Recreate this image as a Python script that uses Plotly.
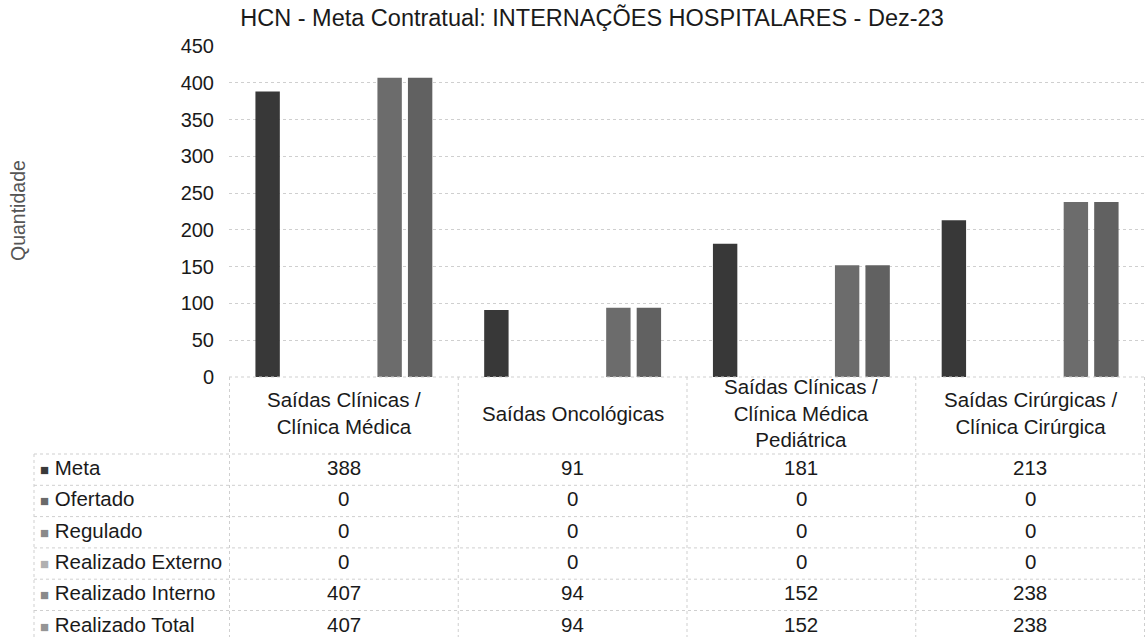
import plotly.graph_objects as go

# ---- data ----
categories = ["Saídas Clínicas / Clínica Médica", "Saídas Oncológicas",
              "Saídas Clínicas / Clínica Médica Pediátrica",
              "Saídas Cirúrgicas / Clínica Cirúrgica"]
header_labels = ["Saídas Clínicas /<br>Clínica Médica", "Saídas Oncológicas",
                 "Saídas Clínicas /<br>Clínica Médica<br>Pediátrica",
                 "Saídas Cirúrgicas /<br>Clínica Cirúrgica"]
series_names = ["Meta", "Ofertado", "Regulado", "Realizado Externo",
                "Realizado Interno", "Realizado Total"]
meta = [388, 91, 181, 213]
ofertado = [0, 0, 0, 0]
regulado = [0, 0, 0, 0]
externo = [0, 0, 0, 0]
interno = [407, 94, 152, 238]
total = [407, 94, 152, 238]
series_values = [meta, ofertado, regulado, externo, interno, total]
y_ticks = [0, 50, 100, 150, 200, 250, 300, 350, 400, 450]

# ---- styles ----
bar_colors = ["#383838", "#555555", "#7a7a7a", "#a5a5a5", "#6c6c6c", "#616161"]
legend_colors = ["#3a3a3a", "#6a6a6a", "#8a8a8a", "#b0b0b0", "#8a8a8a", "#959595"]
FONT = "Liberation Sans, Arial, sans-serif"
TXT = "#1a1a1a"
GRID = "#cfcfcf"
TABLE_FS = 20.5

W, H = 1145, 637
plot_left, plot_right, plot_top, plot_bottom = 229, 1145, 46, 377
L = plot_left
R = W - plot_right
T = plot_top
B = H - plot_bottom
plot_h = H - T - B
plot_w = W - L - R


def py(p):  # pixel y -> paper y
    return (plot_bottom - p) / plot_h


def px(p):  # pixel x -> paper x
    return (p - plot_left) / plot_w


fig = go.Figure()
for name, vals, col in zip(series_names, series_values, bar_colors):
    fig.add_trace(go.Bar(x=categories, y=vals, name=name,
                         marker=dict(color=col, line=dict(width=0)),
                         showlegend=False, hoverinfo="x+y+name"))

shapes = []
annotations = []

# header row top border (x-axis baseline)
shapes.append(dict(type="line", xref="paper", yref="paper", x0=0, x1=1, y0=0, y1=0,
                   line=dict(color=GRID, width=1, dash="dot")))

header_bottom = 454
row_h = 31.3
n_rows = len(series_names)
row_edges = [header_bottom + i * row_h for i in range(n_rows + 1)]
legend_left = 34

for e in row_edges:
    shapes.append(dict(type="line", xref="paper", yref="paper",
                       x0=px(legend_left), x1=1, y0=py(e), y1=py(e),
                       line=dict(color=GRID, width=1, dash="dot")))
shapes.append(dict(type="line", xref="paper", yref="paper",
                   x0=px(legend_left), x1=px(legend_left),
                   y0=py(header_bottom), y1=py(row_edges[-1]),
                   line=dict(color=GRID, width=1, dash="dot")))
for i in range(len(categories) + 1):
    shapes.append(dict(type="line", xref="x", yref="paper",
                       x0=i - 0.5, x1=i - 0.5, y0=0, y1=py(row_edges[-1]),
                       line=dict(color=GRID, width=1, dash="dot")))

# header labels
for cat, lab in zip(categories, header_labels):
    annotations.append(dict(x=cat, xref="x", y=py(413), yref="paper",
                            text=lab, showarrow=False, xanchor="center",
                            yanchor="middle", align="center",
                            font=dict(family=FONT, size=TABLE_FS, color=TXT)))

# rows
for r, (name, vals, lc) in enumerate(zip(series_names, series_values, legend_colors)):
    yc = py(row_edges[r] + row_h / 2 - 2)
    annotations.append(dict(x=px(38), xref="paper", y=yc, yref="paper",
                            text=f'<span style="color:{lc};font-size:15px">■</span> {name}',
                            showarrow=False, xanchor="left", yanchor="middle",
                            font=dict(family=FONT, size=TABLE_FS, color=TXT)))
    for cat, v in zip(categories, vals):
        annotations.append(dict(x=cat, xref="x", y=yc, yref="paper",
                                text=str(v), showarrow=False, xanchor="center",
                                yanchor="middle",
                                font=dict(family=FONT, size=TABLE_FS, color=TXT)))

# y-axis title
annotations.append(dict(x=px(18), xref="paper", y=py(211), yref="paper",
                        text="Quantidade", textangle=-90, showarrow=False,
                        xanchor="center", yanchor="middle",
                        font=dict(family=FONT, size=19.5, color="#555555")))

fig.update_layout(
    width=W, height=H,
    margin=dict(l=L, r=R, t=T, b=B, autoexpand=False),
    paper_bgcolor="white", plot_bgcolor="white",
    barmode="group", bargap=0.2, bargroupgap=0.2,
    title=dict(text="HCN - Meta Contratual: INTERNAÇÕES HOSPITALARES - Dez-23",
               x=592 / W, xref="container", xanchor="center",
               y=1 - 18 / H, yref="container", yanchor="middle",
               font=dict(family=FONT, size=23.5, color=TXT)),
    xaxis=dict(showticklabels=False, showgrid=False, zeroline=False,
               showline=False, ticks=""),
    yaxis=dict(range=[0, 450], tickvals=y_ticks, showgrid=True,
               gridcolor=GRID, griddash="dot", gridwidth=1,
               zeroline=False, showline=False, ticks="",
               ticklabelstandoff=14,
               tickfont=dict(family=FONT, size=20, color=TXT)),
    shapes=shapes, annotations=annotations,
    font=dict(family=FONT, color=TXT),
)

fig.write_html("out.html",
               config={"displayModeBar": False},
               post_script="document.body.style.margin='0';document.body.style.padding='0';")
